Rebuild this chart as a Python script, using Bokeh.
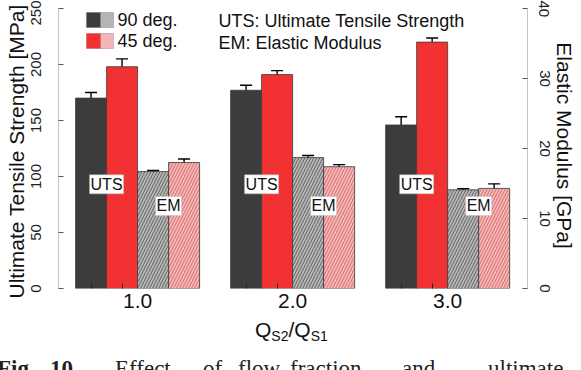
from bokeh.plotting import figure
from bokeh.layouts import column
from bokeh.models import (Range1d, LinearAxis, FixedTicker, ColumnDataSource,
                          Whisker, TeeHead, Label, BoxAnnotation, Div)
from bokeh.embed import file_html
from bokeh.resources import INLINE

# ---- data -------------------------------------------------------------
ratios = ["1.0", "2.0", "3.0"]          # Q_S2/Q_S1
uts_90 = [170, 177, 146]                # MPa
uts_90_err = [5.0, 4.5, 7.4]
uts_45 = [198, 191, 220]                # MPa
uts_45_err = [7.0, 3.5, 3.6]
em_90 = [16.7, 18.7, 14.1]              # GPa
em_90_err = [0.15, 0.3, 0.15]
em_45 = [18.0, 17.4, 14.3]              # GPa
em_45_err = [0.5, 0.3, 0.65]

uts_ticks = [0, 50, 100, 150, 200, 250]
em_ticks = [0, 10, 20, 30, 40]

# ---- layout constants (pixels) -----------------------------------------
W, H = 581, 370
H_MAIN = 318                            # chart panel; the rest holds titles
FL, FR, FT, FB = 58, 527, 8, 288        # frame edges in canvas pixels
FONT = "Liberation Sans"

xs = list(range(1, len(ratios) + 1))
BAR_W = 0.2

p = figure(width=W, height=H_MAIN, output_backend="svg", toolbar_location=None,
           x_range=Range1d(0.49, 3.515), y_range=Range1d(0, 250),
           min_border_left=FL, min_border_right=W - FR,
           min_border_top=FT, min_border_bottom=H_MAIN - FB)
p.extra_y_ranges = {"em": Range1d(0, 40)}
p.outline_line_color = None
p.xgrid.visible = False
p.ygrid.visible = False
p.background_fill_color = "white"
p.border_fill_color = "white"

series = [
    (uts_90, uts_90_err, -0.3, "#3c3c3c", None, None, "default"),
    (uts_45, uts_45_err, -0.1, "#f23232", None, None, "default"),
    (em_90, em_90_err, 0.1, "#b5b5b5", "/", "#3a3a3a", "em"),
    (em_45, em_45_err, 0.3, "#f6b5b5", "/", "#c24b4b", "em"),
]

for vals, errs, off, fill, hatch, hcol, rng in series:
    bx = [x + off for x in xs]
    src = ColumnDataSource(dict(
        x=bx, top=vals,
        upper=[v + e for v, e in zip(vals, errs)],
        lower=[v - e for v, e in zip(vals, errs)]))
    kw = dict(x="x", top="top", bottom=0, width=BAR_W, source=src,
              fill_color=fill, line_color="#3a3a3a", line_width=0.8,
              y_range_name=rng)
    if hatch:
        kw.update(hatch_pattern=hatch, hatch_color=hcol, hatch_scale=6,
                  hatch_weight=0.8, hatch_alpha=0.8)
    p.vbar(**kw)
    w = Whisker(base="x", upper="upper", lower="lower", source=src,
                line_color="black", line_width=1.4, y_range_name=rng,
                upper_head=TeeHead(size=12, line_width=1.4, line_color="black"),
                lower_head=TeeHead(size=12, line_width=1.4, line_color="black"))
    p.add_layout(w)

# in-bar tags
for x in xs:
    p.add_layout(Label(x=x - 0.2, y=93, text="UTS", text_font=FONT,
                       text_font_size="16px", text_align="center",
                       text_baseline="middle", text_color="#111111",
                       background_fill_color="white",
                       border_line_color="#bbbbbb", border_line_width=0.5,
                       padding=1))
    p.add_layout(Label(x=x + 0.2, y=11.8, y_range_name="em", text="EM",
                       text_font=FONT, text_font_size="16px",
                       text_align="center", text_baseline="middle",
                       text_color="#111111", background_fill_color="white",
                       border_line_color="#bbbbbb", border_line_width=0.5,
                       padding=1))

# ---- axes ----------------------------------------------------------------
xa = p.xaxis[0]
xa.ticker = FixedTicker(ticks=xs, minor_ticks=[x + o for x in xs for o in (-0.3, -0.1)])
xa.major_label_overrides = {x: r for x, r in zip(xs, ratios)}
xa.axis_line_color = None
xa.major_tick_in = 0
xa.major_tick_out = 0
xa.minor_tick_in = 5
xa.minor_tick_out = 0
xa.minor_tick_line_color = "#222222"
xa.major_label_text_font = FONT
xa.major_label_text_font_size = "21px"
xa.major_label_text_color = "#111111"
xa.major_label_standoff = 5

ya = p.yaxis[0]
ya.ticker = FixedTicker(ticks=uts_ticks)
ya.axis_label = "Ultimate Tensile Strength  [MPa]"

ra = LinearAxis(y_range_name="em", ticker=FixedTicker(ticks=em_ticks),
                axis_label="Elastic Modulus  [GPa]")
p.add_layout(ra, "right")

for ax in (ya, ra):
    ax.axis_line_color = "#c4c4c4"
    ax.axis_line_width = 1
    ax.major_tick_in = 5
    ax.major_tick_out = 0
    ax.minor_tick_line_color = None
    ax.major_tick_line_color = "#555555"
    ax.major_label_orientation = "vertical"
    ax.major_label_text_font = FONT
    ax.major_label_text_font_size = "15px"
    ax.major_label_text_color = "#222222"
    ax.axis_label_text_font = FONT
    ax.axis_label_text_font_size = "21px"
    ax.axis_label_text_font_style = "normal"
    ax.axis_label_text_color = "#111111"
ya.major_label_standoff = 18
ya.axis_label_standoff = 0
ra.major_label_standoff = 12
ra.axis_label_standoff = 0


def top_label(text, px, py, size, baseline="middle"):
    # pixel position on the chart panel -> frame-relative screen units
    p.add_layout(Label(x=px - FL, y=FB - py, x_units="screen", y_units="screen",
                       text=text, text_font=FONT, text_font_size=size,
                       text_color="#111111", text_baseline=baseline))


# ---- legend --------------------------------------------------------------
legend_rows = [("90 deg.", "#3c3c3c", "#b5b5b5", 12),
               ("45 deg.", "#f23232", "#f6b5b5", 33)]
for label, c1, c2, top in legend_rows:
    for left, right, col in ((86, 100, c1), (100, 113, c2)):
        p.add_layout(BoxAnnotation(left=left - FL, right=right - FL,
                                   top=FB - top, bottom=FB - top - 15,
                                   left_units="screen", right_units="screen",
                                   top_units="screen", bottom_units="screen",
                                   fill_color=col, fill_alpha=1,
                                   line_color="#333333", line_width=0.8))
    top_label(label, 117, top + 7.5, "18px")

top_label("UTS: Ultimate Tensile Strength", 218, 20, "18px")
top_label("EM: Elastic Modulus", 218, 42, "18px")

# ---- lower strip: x-axis title with subscripts, and the figure caption ----
H_LOW = H - H_MAIN
caption = [("Fig.", -3, "bold"), ("10.", 50, "bold"), ("Effect", 115, "normal"),
           ("of", 203, "normal"), ("flow", 238, "normal"),
           ("fraction", 290, "normal"), ("and", 402, "normal"),
           ("ultimate", 488, "normal")]

span = "position:absolute;white-space:nowrap;margin:0;padding:0;line-height:normal;"
parts = [
    f'<div style="{span}left:255px;top:0px;font-family:\'{FONT}\';font-size:21px;color:#111">'
    'Q<sub style="font-size:14px;vertical-align:-4px">S2</sub>'
    '/Q<sub style="font-size:14px;vertical-align:-4px">S1</sub></div>'
]
for word, px, weight in caption:
    parts.append(f'<div style="{span}left:{px}px;top:38px;font-weight:{weight};'
                 f'font-family:\'Liberation Serif\';font-size:23px;color:#222">{word}</div>')

low = Div(text=f'<div style="position:relative;width:{W}px;height:{H_LOW}px;'
               f'overflow:hidden;background:white">' + "".join(parts) + "</div>",
          width=W, height=H_LOW, margin=(0, 0, 0, 0))

page = column(p, low, spacing=0)
open("out.html", "w").write(file_html(page, INLINE))
